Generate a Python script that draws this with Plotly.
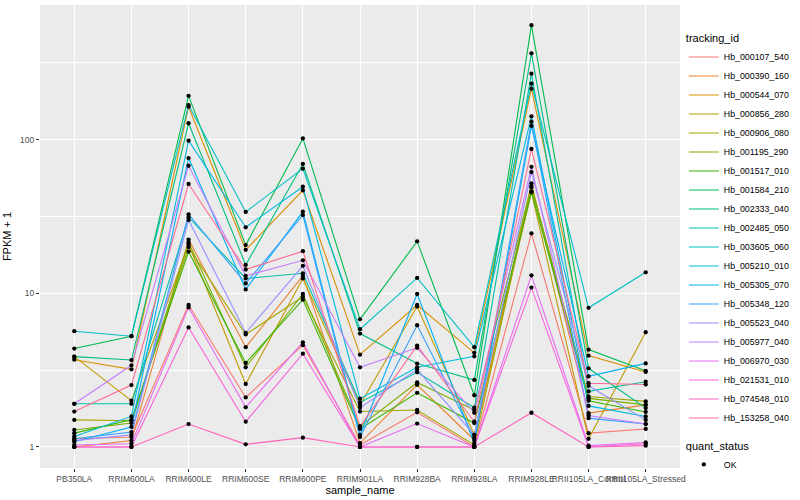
import plotly.graph_objects as go

samples = ["PB350LA", "RRIM600LA", "RRIM600LE", "RRIM600SE", "RRIM600PE", "RRIM901LA",
           "RRIM928BA", "RRIM928LA", "RRIM928LE", "RRII105LA_Control", "RRII105LA_Stressed"]

tracking_ids = ["Hb_000107_540", "Hb_000390_160", "Hb_000544_070", "Hb_000856_280", "Hb_000906_080",
                "Hb_001195_290", "Hb_001517_010", "Hb_001584_210", "Hb_002333_040", "Hb_002485_050",
                "Hb_003605_060", "Hb_005210_010", "Hb_005305_070", "Hb_005348_120", "Hb_005523_040",
                "Hb_005977_040", "Hb_006970_030", "Hb_021531_010", "Hb_074548_010", "Hb_153258_040"]

colors = ["#F8766D", "#EA8331", "#D89000", "#C09B00", "#A3A500", "#7CAE00", "#39B600", "#00BB4E",
          "#00BF7D", "#00C1A3", "#00BFC4", "#00BAE0", "#00B0F6", "#35A2FF", "#9590FF", "#C77CFF",
          "#E76BF3", "#FA62DB", "#FF62BC", "#FF6C91"]

# FPKM + 1 per tracking_id, one value per sample (order of `samples`)
hb_000107_540 = [1.13, 1.16, 8.4, 2.10, 4.6, 1.03, 1.68, 1.00, 24.6, 1.23, 1.31]
hb_000390_160 = [1.00, 1.10, 22.4, 4.46, 13.0, 1.06, 2.54, 1.11, 52.0, 1.66, 1.88]
hb_000544_070 = [3.70, 3.20, 164.0, 19.2, 46.8, 3.99, 8.4, 4.10, 215.0, 3.93, 3.08]
hb_000856_280 = [3.87, 2.00, 20.8, 2.57, 12.5, 1.88, 8.2, 1.20, 45.5, 1.13, 5.58]
hb_000906_080 = [1.50, 1.48, 20.0, 5.40, 9.5, 1.70, 1.74, 1.03, 48.8, 2.13, 1.98]
hb_001195_290 = [1.29, 1.43, 21.5, 3.30, 9.9, 1.36, 2.63, 1.74, 50.0, 2.07, 1.88]
hb_001517_010 = [1.23, 1.50, 18.7, 3.52, 9.1, 1.31, 2.25, 1.43, 46.0, 2.00, 1.69]
hb_001584_210 = [4.37, 5.26, 193.0, 20.6, 102.0, 6.77, 21.8, 2.17, 557.0, 4.30, 3.13]
hb_002333_040 = [3.87, 3.68, 128.0, 15.3, 69.6, 5.47, 3.49, 2.73, 365.0, 3.25, 1.79]
hb_002485_050 = [1.91, 1.91, 31.3, 12.5, 13.5, 1.95, 3.06, 1.80, 269.0, 2.30, 2.66]
hb_003605_060 = [5.67, 5.26, 168.0, 33.9, 64.8, 5.84, 12.6, 4.46, 232.0, 8.05, 13.7]
hb_005210_010 = [1.17, 1.58, 98.6, 26.9, 49.4, 2.06, 3.30, 3.89, 142.0, 1.85, 1.58]
hb_005305_070 = [1.08, 1.35, 76.0, 10.6, 34.0, 1.20, 9.9, 1.06, 123.0, 2.88, 3.50]
hb_005348_120 = [1.13, 1.25, 32.7, 11.6, 32.3, 1.16, 6.2, 1.15, 131.0, 1.54, 1.41]
hb_005523_040 = [1.10, 1.20, 30.0, 5.53, 15.1, 1.80, 3.19, 1.20, 61.6, 2.50, 1.50]
hb_005977_040 = [1.91, 3.40, 67.7, 13.0, 16.4, 3.30, 4.42, 1.67, 66.6, 1.60, 1.41]
hb_006970_030 = [1.03, 1.05, 8.1, 1.81, 4.8, 1.00, 1.42, 1.00, 13.1, 1.02, 1.07]
hb_021531_010 = [1.00, 1.00, 6.0, 1.46, 4.05, 1.00, 1.00, 1.00, 10.9, 1.00, 1.05]
hb_074548_010 = [1.00, 1.00, 1.41, 1.04, 1.15, 1.00, 1.00, 1.00, 1.67, 1.00, 1.02]
hb_153258_040 = [1.70, 2.53, 51.5, 14.3, 18.8, 1.36, 4.57, 1.46, 87.0, 2.60, 2.55]

series = [hb_000107_540, hb_000390_160, hb_000544_070, hb_000856_280, hb_000906_080,
          hb_001195_290, hb_001517_010, hb_001584_210, hb_002333_040, hb_002485_050,
          hb_003605_060, hb_005210_010, hb_005305_070, hb_005348_120, hb_005523_040,
          hb_005977_040, hb_006970_030, hb_021531_010, hb_074548_010, hb_153258_040]

y_tick_vals = [1, 10, 100]
y_tick_text = ["1", "10", "100"]
y_minor_vals = [3.1623, 31.623, 316.23]

FONT = "Liberation Sans, Arial, sans-serif"

fig = go.Figure()
for name, vals, col in zip(tracking_ids, series, colors):
    fig.add_trace(go.Scatter(x=samples, y=vals, mode="lines", name=name,
                             line=dict(color=col, width=1.1), legend="legend"))

all_x, all_y = [], []
for vals in series:
    all_x.extend(samples)
    all_y.extend(vals)
fig.add_trace(go.Scatter(x=all_x, y=all_y, mode="markers", name="OK",
                         marker=dict(color="black", size=4.3, symbol="circle"),
                         legend="legend2"))

fig.update_layout(
    width=800, height=500,
    margin=dict(l=40, r=117, t=5, b=32),
    paper_bgcolor="white", plot_bgcolor="#EBEBEB",
    font=dict(family=FONT, size=9, color="black"),
    legend=dict(title=dict(text="tracking_id", font=dict(size=11)), x=1.006, xanchor="left",
                y=0.95, yanchor="top", font=dict(size=8.8), tracegroupgap=0,
                bgcolor="rgba(0,0,0,0)"),
    legend2=dict(title=dict(text="quant_status", font=dict(size=11)), x=1.006, xanchor="left",
                 y=0.07, yanchor="top", font=dict(size=8.8), bgcolor="rgba(0,0,0,0)"),
)
fig.update_xaxes(type="category", categoryorder="array", categoryarray=samples,
                 range=[-0.6, 10.6], showgrid=True, gridcolor="white", gridwidth=1.1,
                 zeroline=False, ticks="outside", ticklen=3, tickcolor="#333333", tickwidth=1,
                 tickangle=0, tickfont=dict(size=8.5, color="#4D4D4D"),
                 title=dict(text="sample_name", font=dict(size=11), standoff=2),
                 automargin=False, showline=False)
fig.update_yaxes(type="log", range=[-0.137, 2.877], tickvals=y_tick_vals, ticktext=y_tick_text,
                 showgrid=True, gridcolor="white", gridwidth=1.1, zeroline=False,
                 ticks="outside", ticklen=3, tickcolor="#333333", tickwidth=1,
                 tickfont=dict(size=8.5, color="#4D4D4D"),
                 minor=dict(tickvals=y_minor_vals, showgrid=True, gridcolor="white",
                            gridwidth=0.5, ticks=""),
                 title=dict(text="FPKM + 1", font=dict(size=11), standoff=6),
                 automargin=False, showline=False)

fig.write_html("out.html", config={"displayModeBar": False},
               post_script="document.body.style.margin='0px';")
